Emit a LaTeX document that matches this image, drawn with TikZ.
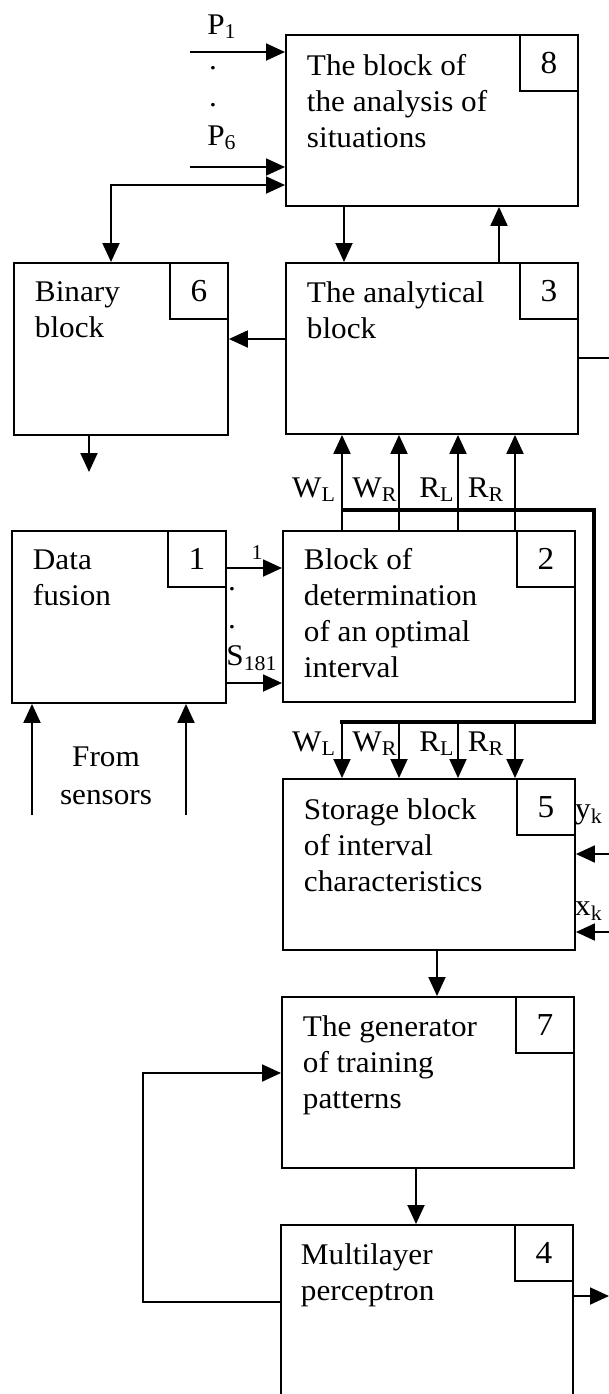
\documentclass[tikz,border=0pt]{standalone}
\usepackage{fontspec}
\setmainfont{Liberation Serif}[FakeStretch=1.04]
\usetikzlibrary{arrows.meta}

\begin{document}
\begin{tikzpicture}[x=0.5pt, y=-0.5pt, line width=0.95pt,
  block/.style={draw, rectangle, anchor=north west, inner sep=0pt,
    minimum width=146pt, minimum height=85.5pt},
  smallblock/.style={block, minimum width=107pt, minimum height=86pt},
  numbox/.style={draw, rectangle, anchor=north east, inner sep=0pt,
    minimum width=29pt, minimum height=28pt, font=\fontsize{16}{18}\selectfont},
  btext/.style={anchor=north west, inner sep=0pt, align=left,
    font=\fontsize{15}{18}\selectfont},
  lab/.style={inner sep=0pt, font=\fontsize{15}{19}\selectfont},
  tinylab/.style={inner sep=0pt, font=\fontsize{10.5}{12}\selectfont},
  arr/.style={-{Triangle[length=9.5pt, width=8.5pt]}},
  arrboth/.style={{Triangle[length=9.5pt, width=8.5pt]}-{Triangle[length=9.5pt, width=8.5pt]}},
  bus/.style={line width=2.4pt}
]

  % Frame
  \useasboundingbox (0,0) rectangle (609,1394);
  \clip (0,0) rectangle (609,1394);

  % Blocks
  \node[block] (b8) at (285,34) {};
  \node[smallblock] (b6) at (13,262) {};
  \node[block] (b3) at (285,262) {};
  \node[smallblock] (b1) at (11,530) {};
  \node[block] (b2) at (282,530) {};
  \node[block] (b5) at (282,778) {};
  \node[block] (b7) at (281,996) {};
  \node[block, minimum height=100pt] (b4) at (280,1224) {};

  % Numbers
  \node[numbox] (n8) at (b8.north east) {8};
  \node[numbox] (n6) at (b6.north east) {6};
  \node[numbox] (n3) at (b3.north east) {3};
  \node[numbox] (n1) at (b1.north east) {1};
  \node[numbox] (n2) at (b2.north east) {2};
  \node[numbox] (n5) at (b5.north east) {5};
  \node[numbox] (n7) at (b7.north east) {7};
  \node[numbox] (n4) at (b4.north east) {4};

  % Texts of the blocks
  \node[btext] (t8) at ([shift={(10.5pt,-9.5pt)}]b8.north west) {The block of\\the analysis of\\situations};
  \node[btext] (t6) at ([shift={(10.5pt,-9.5pt)}]b6.north west) {Binary\\block};
  \node[btext] (t3) at ([shift={(10.5pt,-9.5pt)}]b3.north west) {The analytical\\block};
  \node[btext] (t1) at ([shift={(10.5pt,-9.5pt)}]b1.north west) {Data\\fusion};
  \node[btext] (t2) at ([shift={(10.5pt,-8.5pt)}]b2.north west) {Block of\\determination\\of an optimal\\interval};
  \node[btext] (t5) at ([shift={(10.5pt,-10pt)}]b5.north west) {Storage block\\of interval\\characteristics};
  \node[btext] (t7) at ([shift={(10.5pt,-9.5pt)}]b7.north west) {The generator\\of training\\patterns};
  \node[btext] (t4) at ([shift={(10pt,-9.5pt)}]b4.north west) {Multilayer\\perceptron};

  % Inputs of block 8
  \coordinate (p1) at (190,52);
  \coordinate (p6) at (190,167);
  \draw[arr] (p1) -- (p1 -| b8.west);
  \draw[arr] (p6) -- (p6 -| b8.west);
  \node[lab] (lp1) at (222,27) {P\textsubscript{1}};
  \node[lab] (dp1) at (213,68) {.};
  \node[lab] (dp2) at (213,105) {.};
  \node[lab] (lp6) at (222,138) {P\textsubscript{6}};

  % Block 6 and block 8
  \draw[arrboth] (111,0 |- b6.north) -- (111,185) -- (b8.west |- 0,185);

  % Block 8 and block 3
  \draw[arr] (344,0 |- b8.south) -- (344,0 |- b3.north);
  \draw[arr] (499,0 |- b3.north) -- (499,0 |- b8.south);

  % Block 3 to block 6, outputs
  \draw[arr] (b3.west |- 0,339) -- (b6.east |- 0,339);
  \coordinate (out3) at (609,358);
  \draw (b3.east |- out3) -- (out3);
  \coordinate (out6) at (89,472);
  \draw[arr] (out6 |- b6.south) -- (out6);

  % Outputs of block 2 (up to block 3, down to block 5)
  \draw[bus] (342,510) -- (594,510) -- (594,722) -- (340,722);
  \foreach \x/\lx/\t in {342/314/W\textsubscript{L}, 399/375/W\textsubscript{R},
                          458/437/R\textsubscript{L}, 515/486/R\textsubscript{R}} {
    \draw[arr] (\x,0 |- b2.north) -- (\x,0 |- b3.south);
    \node[lab] (up\x) at (\lx,490) {\t};
    \draw[arr] (\x,722) -- (\x,0 |- b5.north);
    \node[lab] (dn\x) at (\lx,744) {\t};
  }

  % Block 1 to block 2
  \draw[arr] (b1.east |- 0,568) -- (b2.west |- 0,568);
  \draw[arr] (b1.east |- 0,683) -- (b2.west |- 0,683);
  \node[tinylab] (ls1) at (257,553) {1};
  \node[lab] (ds1) at (232,589) {.};
  \node[lab] (ds2) at (232,627) {.};
  \node[lab] (ls181) at (252,658) {S\textsubscript{181}};

  % Sensors
  \foreach \x in {32,186}
    \draw[arr] (\x,815) -- (\x,0 |- b1.south);
  \node[lab, align=center] (sens) at (106,776) {From\\sensors};

  % Inputs of block 5
  \coordinate (yk) at (609,854);
  \coordinate (xk) at (609,932);
  \draw[arr] (yk) -- (yk -| b5.east);
  \draw[arr] (xk) -- (xk -| b5.east);
  \node[lab] (lyk) at (589,815) {y\textsubscript{k}};
  \node[lab] (lxk) at (589,911) {x\textsubscript{k}};

  % Blocks 5, 7, 4
  \draw[arr] (437,0 |- b5.south) -- (437,0 |- b7.north);
  \draw[arr] (416,0 |- b7.south) -- (416,0 |- b4.north);
  \draw[arr] (b4.west |- 0,1302) -- (143,1302) -- (143,1073) -- (b7.west |- 0,1073);
  \coordinate (out4) at (609,1296);
  \draw[arr] (out4 -| b4.east) -- (out4);

\end{tikzpicture}
\end{document}
